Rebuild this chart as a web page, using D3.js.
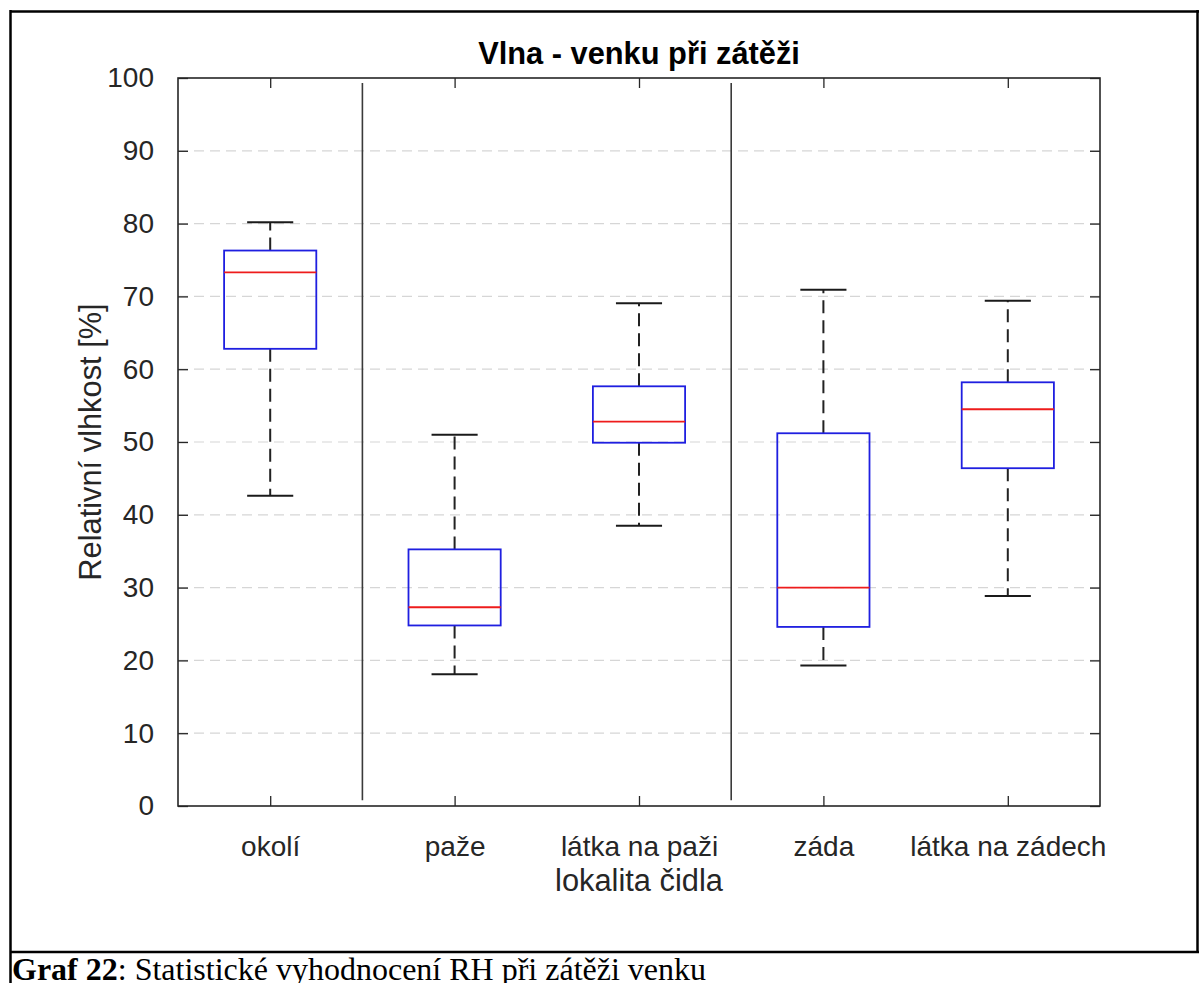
<!DOCTYPE html>
<html>
<head>
<meta charset="utf-8">
<script src="https://cdn.jsdelivr.net/npm/d3@7"></script>
<style>
  html, body { margin: 0; padding: 0; background: #fff; }
  svg { display: block; }
  .tick text { font-family: "Liberation Sans", Arial, sans-serif; }
</style>
</head>
<body>
<svg id="chart" width="1199" height="983"></svg>
<script>
// Sensor locations (x categories)
const categories = ["okolí", "paže", "látka na paži", "záda", "látka na zádech"];
// Box plot statistics per location, relative humidity in %
const whiskerLow  = [42.6, 18.1, 38.5, 19.3, 28.85];
const quartile1   = [62.8, 24.8, 49.9, 24.6, 46.4];
const medians     = [73.3, 27.3, 52.8, 30.0, 54.5];
const quartile3   = [76.3, 35.25, 57.65, 51.2, 58.2];
const whiskerHigh = [80.2, 51.0, 69.05, 70.9, 69.4];
// Y axis ticks
const yTicks = [0, 10, 20, 30, 40, 50, 60, 70, 80, 90, 100];
// Vertical group separators (in category units) and their vertical extent (%)
const separators = [1.5, 3.5];
const separatorSpan = [0.8, 99.3];

const titleText = "Vlna - venku při zátěži";
const yLabelText = "Relativní vlhkost [%]";
const xLabelText = "lokalita čidla";
const captionBold = "Graf 22";
const captionRest = ": Statistické vyhodnocení RH při zátěži venku";

const svg = d3.select("#chart");
const W = 1199, H = 983;
const plot = { left: 178, right: 1100, top: 78, bottom: 806 };
const axisColor = "#262626";
const sans = "'Liberation Sans', Arial, Helvetica, sans-serif";

// Page frame (table cells around the figure and caption)
svg.append("rect").attr("x", 0).attr("y", 0).attr("width", W).attr("height", H).attr("fill", "#fff");
const frame = svg.append("g").attr("stroke", "#000").attr("stroke-width", 2.5).attr("fill", "none");
frame.append("line").attr("x1", 10).attr("x2", W).attr("y1", 11.5).attr("y2", 11.5);
frame.append("line").attr("x1", 10.5).attr("x2", 10.5).attr("y1", 10).attr("y2", H);
frame.append("line").attr("x1", 10).attr("x2", W).attr("y1", 952).attr("y2", 952);
frame.append("line").attr("x1", 1197.5).attr("x2", 1197.5).attr("y1", 10).attr("y2", 953);

// Scales
const x = d3.scaleLinear().domain([0.5, categories.length + 0.5]).range([plot.left, plot.right]);
const y = d3.scaleLinear().domain([0, 100]).range([plot.bottom, plot.top]);

// Horizontal dashed grid
svg.append("g").selectAll("line").data(yTicks.filter(t => t > 0 && t < 100)).join("line")
  .attr("x1", plot.left).attr("x2", plot.right)
  .attr("y1", d => y(d)).attr("y2", d => y(d))
  .attr("stroke", "#d6d6d6").attr("stroke-width", 1.2)
  .attr("stroke-dasharray", "10,6");

// Group separators
svg.append("g").selectAll("line").data(separators).join("line")
  .attr("x1", d => x(d)).attr("x2", d => x(d))
  .attr("y1", y(separatorSpan[0])).attr("y2", y(separatorSpan[1]))
  .attr("stroke", "#3a3a3a").attr("stroke-width", 1.6);

// Axes (box on, ticks pointing inward)
const idx = categories.map((_, i) => i + 1);
const styleAxis = g => {
  g.select(".domain").remove();
  g.selectAll(".tick line").attr("stroke", axisColor).attr("stroke-width", 1.3);
  g.selectAll(".tick text").attr("fill", axisColor).attr("font-size", 28);
};
svg.append("g").attr("transform", `translate(0,${plot.bottom})`)
  .call(d3.axisBottom(x).tickValues(idx).tickFormat(d => categories[d - 1]).tickSizeInner(-10).tickSizeOuter(0).tickPadding(30))
  .call(styleAxis);
svg.append("g").attr("transform", `translate(0,${plot.top})`)
  .call(d3.axisTop(x).tickValues(idx).tickFormat("").tickSizeInner(-10).tickSizeOuter(0))
  .call(styleAxis);
svg.append("g").attr("transform", `translate(${plot.left},0)`)
  .call(d3.axisLeft(y).tickValues(yTicks).tickSizeInner(-10).tickSizeOuter(0).tickPadding(24))
  .call(styleAxis);
svg.append("g").attr("transform", `translate(${plot.right},0)`)
  .call(d3.axisRight(y).tickValues(yTicks).tickFormat("").tickSizeInner(-10).tickSizeOuter(0))
  .call(styleAxis);
svg.append("rect")
  .attr("x", plot.left).attr("y", plot.top)
  .attr("width", plot.right - plot.left).attr("height", plot.bottom - plot.top)
  .attr("fill", "none").attr("stroke", axisColor).attr("stroke-width", 1.6);

// Box plots
const boxHalf = 0.25, capHalf = 0.125;
const boxes = svg.append("g").selectAll("g").data(categories).join("g");
// whiskers
boxes.append("line")
  .attr("x1", (d, i) => x(i + 1)).attr("x2", (d, i) => x(i + 1))
  .attr("y1", (d, i) => y(quartile3[i])).attr("y2", (d, i) => y(whiskerHigh[i]))
  .attr("stroke", "#222").attr("stroke-width", 2).attr("stroke-dasharray", "13,7");
boxes.append("line")
  .attr("x1", (d, i) => x(i + 1)).attr("x2", (d, i) => x(i + 1))
  .attr("y1", (d, i) => y(quartile1[i])).attr("y2", (d, i) => y(whiskerLow[i]))
  .attr("stroke", "#222").attr("stroke-width", 2).attr("stroke-dasharray", "13,7");
// caps
[whiskerHigh, whiskerLow].forEach(arr => {
  boxes.append("line")
    .attr("x1", (d, i) => x(i + 1 - capHalf)).attr("x2", (d, i) => x(i + 1 + capHalf))
    .attr("y1", (d, i) => y(arr[i])).attr("y2", (d, i) => y(arr[i]))
    .attr("stroke", "#1a1a1a").attr("stroke-width", 2);
});
// boxes
boxes.append("rect")
  .attr("x", (d, i) => x(i + 1 - boxHalf))
  .attr("width", (d, i) => x(i + 1 + boxHalf) - x(i + 1 - boxHalf))
  .attr("y", (d, i) => y(quartile3[i]))
  .attr("height", (d, i) => y(quartile1[i]) - y(quartile3[i]))
  .attr("fill", "none").attr("stroke", "#1f1fe0").attr("stroke-width", 1.8);
// medians
boxes.append("line")
  .attr("x1", (d, i) => x(i + 1 - boxHalf)).attr("x2", (d, i) => x(i + 1 + boxHalf))
  .attr("y1", (d, i) => y(medians[i])).attr("y2", (d, i) => y(medians[i]))
  .attr("stroke", "#ee1c1c").attr("stroke-width", 1.8);

// Title and axis labels
svg.append("text")
  .attr("x", (plot.left + plot.right) / 2).attr("y", 64)
  .attr("text-anchor", "middle").attr("font-family", sans)
  .attr("font-weight", "bold").attr("font-size", 30.8).attr("fill", "#000")
  .text(titleText);
svg.append("text")
  .attr("transform", `translate(101,${(plot.top + plot.bottom) / 2}) rotate(-90)`)
  .attr("text-anchor", "middle").attr("font-family", sans)
  .attr("font-size", 30.8).attr("fill", axisColor)
  .text(yLabelText);
svg.append("text")
  .attr("x", (plot.left + plot.right) / 2).attr("y", 891)
  .attr("text-anchor", "middle").attr("font-family", sans)
  .attr("font-size", 30.8).attr("fill", axisColor)
  .text(xLabelText);

// Caption
const cap = svg.append("text")
  .attr("x", 12).attr("y", 980)
  .attr("font-family", "'Liberation Serif', 'Times New Roman', serif")
  .attr("font-size", 32).attr("fill", "#000");
cap.append("tspan").attr("font-weight", "bold").text(captionBold);
cap.append("tspan").text(captionRest);
</script>
</body>
</html>
